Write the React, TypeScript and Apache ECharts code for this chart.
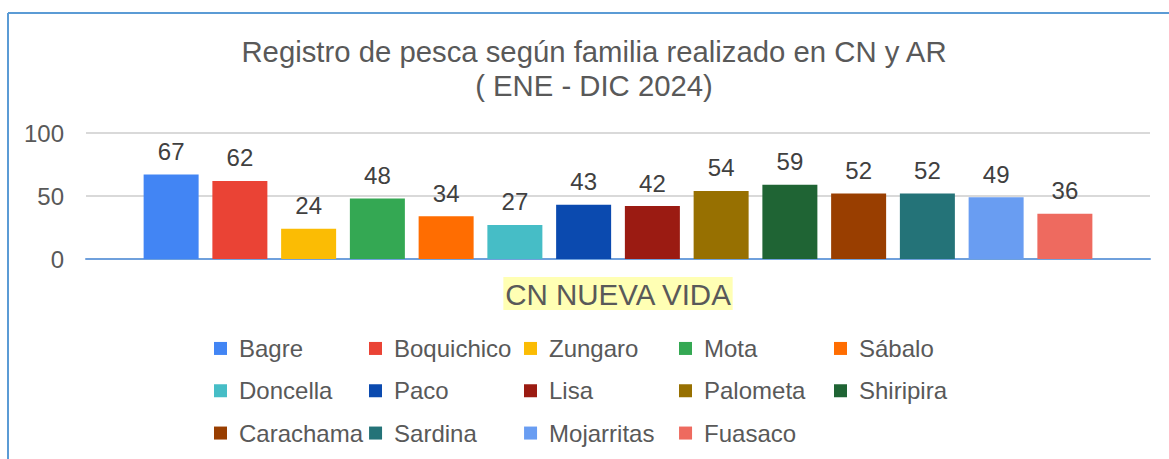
import React, { useEffect, useRef } from "react";
import * as echarts from "echarts";

const titleLines = ["Registro de pesca según familia realizado en CN y AR", "( ENE - DIC 2024)"];
const categories = ["CN NUEVA VIDA"];
const seriesNames = [
  "Bagre", "Boquichico", "Zungaro", "Mota", "Sábalo",
  "Doncella", "Paco", "Lisa", "Palometa", "Shiripira",
  "Carachama", "Sardina", "Mojarritas", "Fuasaco",
];
const seriesValues = [67, 62, 24, 48, 34, 27, 43, 42, 54, 59, 52, 52, 49, 36];
const seriesColors = [
  "#4285F4", "#EA4335", "#FBBC04", "#34A853", "#FF6D01",
  "#46BDC6", "#0B4AAF", "#9B1B12", "#977001", "#1F6434",
  "#993E00", "#247378", "#699DF2", "#EE6A5F",
];
const yTicks = { min: 0, max: 100, interval: 50 };

const FONT = "'Liberation Sans', Arial, sans-serif";
const TXT = "#595959";

export default function App() {
  const ref = useRef<HTMLDivElement>(null);
  useEffect(() => {
    document.body.style.margin = "0";
    const chart = echarts.init(ref.current!, undefined, { renderer: "svg" });
    const option: any = {
      animation: false,
      backgroundColor: "#ffffff",
      textStyle: { fontFamily: FONT },
      graphic: [
        {
          type: "line",
          shape: { x1: 8, y1: 13, x2: 1169, y2: 13 },
          style: { stroke: "#5B9BD5", lineWidth: 2 },
        },
        {
          type: "line",
          shape: { x1: 8, y1: 13, x2: 8, y2: 459 },
          style: { stroke: "#5B9BD5", lineWidth: 2 },
        },
        ...titleLines.map((t, i) => ({
          type: "text",
          x: 594,
          y: 51 + i * 34,
          style: {
            text: t,
            textAlign: "center",
            textVerticalAlign: "middle",
            fontSize: 29.3,
            fontFamily: FONT,
            fill: TXT,
          },
        })),
      ],
      grid: { left: 86, right: 19, top: 133, bottom: 200, containLabel: false },
      xAxis: {
        type: "category",
        data: categories,
        axisLine: { show: true, lineStyle: { color: "#6FA0DC", width: 2 } },
        axisTick: { show: false },
        axisLabel: {
          margin: 18,
          fontSize: 29.5,
          color: TXT,
          fontFamily: FONT,
          backgroundColor: "#FFFFB4",
          padding: [2, 1, 1, 1],
        },
      },
      yAxis: {
        type: "value",
        min: yTicks.min,
        max: yTicks.max,
        interval: yTicks.interval,
        axisLine: { show: false },
        axisTick: { show: false },
        splitLine: { lineStyle: { color: "#D9D9D9", width: 2 } },
        axisLabel: { margin: 22, fontSize: 24, color: TXT, fontFamily: FONT },
      },
      legend: {
        data: seriesNames,
        left: 214,
        top: 330.3,
        width: 770,
        padding: 0,
        itemGap: 6,
        itemWidth: 13,
        itemHeight: 13,
        icon: "rect",
        selectedMode: false,
        textStyle: {
          fontSize: 24,
          color: TXT,
          fontFamily: FONT,
          width: 124,
          lineHeight: 36.3,
          padding: [0, 0, 0, 7],
        },
      },
      series: seriesNames.map((name, i) => ({
        name,
        type: "bar",
        data: [seriesValues[i]],
        barWidth: 55,
        barGap: "25%",
        itemStyle: { color: seriesColors[i] },
        label: {
          show: true,
          position: "top",
          distance: 11,
          fontSize: 24,
          color: "#404040",
          fontFamily: FONT,
        },
      })),
    };
    chart.setOption(option);
    return () => chart.dispose();
  }, []);
  return <div ref={ref} style={{ width: 1169, height: 459 }} />;
}
